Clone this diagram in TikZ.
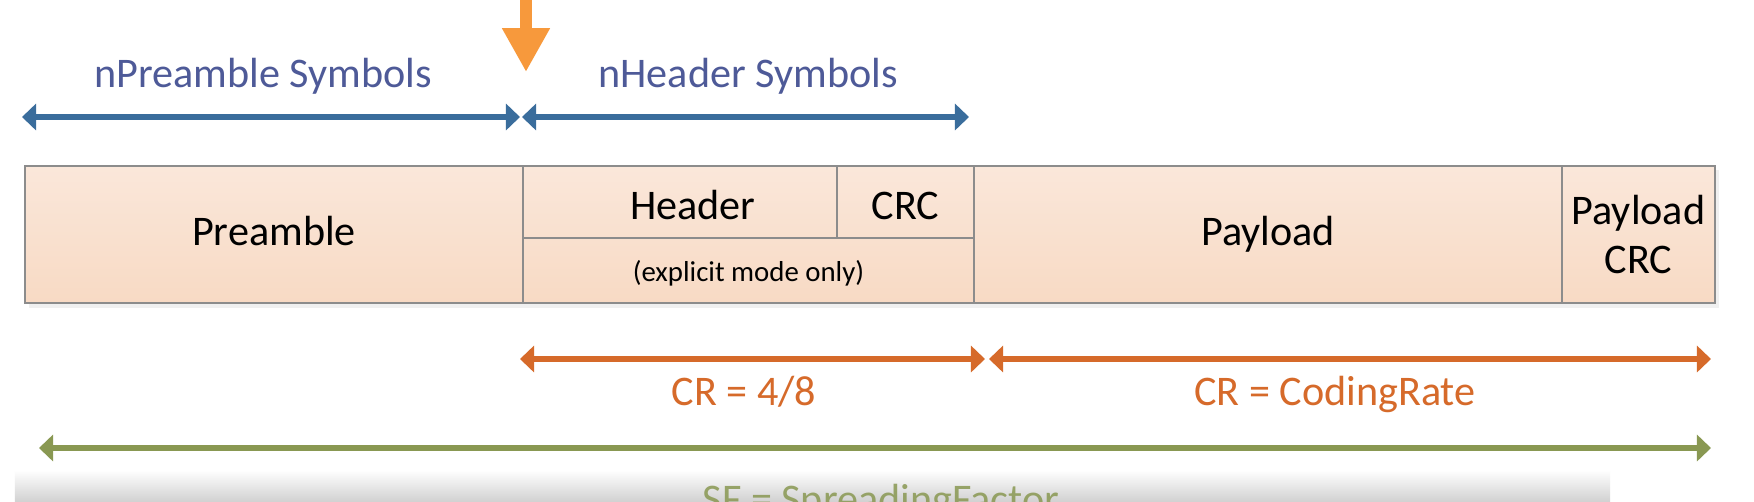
\documentclass[tikz,border=0pt]{standalone}
\usepackage{fontspec}
\setmainfont{Carlito}
\usetikzlibrary{arrows.meta,backgrounds}
\definecolor{dimBlue}{RGB}{58,109,156}
\definecolor{dimBlueText}{RGB}{78,90,152}
\definecolor{crOrange}{RGB}{214,106,42}
\definecolor{sfGreen}{RGB}{137,152,82}
\definecolor{markOrange}{RGB}{247,153,60}
\definecolor{cellTop}{RGB}{250,231,218}
\definecolor{cellBottom}{RGB}{248,218,196}
\definecolor{cellEdge}{RGB}{140,140,140}
\tikzset{
  cell/.style={draw=cellEdge,line width=0.45pt,anchor=north west,inner sep=0pt,outer sep=0pt,
    font=\fontsize{12}{14.2}\selectfont,text height=0.644em,text depth=0pt},
  dimline/.style={line width=1.7pt,{Triangle[length=4pt,width=7.4pt]}-{Triangle[length=4pt,width=7.4pt]}},
  dimtext/.style={anchor=base,font=\fontsize{12}{14}\selectfont}
}

\begin{document}
\begin{tikzpicture}
\clip (0,0) rectangle (17.54,-5.01);

\node[cell,minimum width=4.98cm,minimum height=1.37cm] (pre) at (0.25,-1.66) {Preamble};
\node[cell,minimum width=3.14cm,minimum height=0.72cm,text height=1em] (hdr) at (pre.north east) {\hspace*{0.26cm}Header};
\node[cell,minimum width=1.37cm,minimum height=0.72cm,text height=1em] (hcrc) at (hdr.north east) {CRC};
\node[cell,minimum width=4.51cm,minimum height=0.65cm,font=\fontsize{8.2}{10}\selectfont] (expl) at (hdr.south west) {(explicit mode only)};
\node[cell,minimum width=5.88cm,minimum height=1.37cm] (pay) at (hcrc.north east) {Payload};
\node[cell,minimum width=1.53cm,minimum height=1.37cm,align=center,text height=,text depth=] (pcrc) at (pay.north east) {Payload\\[0pt]CRC};
\begin{scope}[on background layer]
\fill[white] (0,0) rectangle (17.54,-5.01);
\fill[black!6] ([shift={(0.04,-0.04)}]pre.north west) rectangle ([shift={(0.04,-0.05)}]pcrc.south east);
\fill[top color=cellTop,bottom color=cellBottom] (pre.north west) rectangle (pcrc.south east);
\end{scope}

\coordinate (pL) at (0.22,-1.17);
\coordinate (pR) at (5.20,-1.17);
\coordinate (hL) at (5.22,-1.17);
\coordinate (hR) at (9.69,-1.17);
\draw[dimline,dimBlue] (pL) -- (pR);
\draw[dimline,dimBlue] (hL) -- (hR);
\node[dimtext,dimBlueText] (preSym) at (2.63,-0.87) {nPreamble Symbols};
\node[dimtext,dimBlueText] (hdrSym) at (7.48,-0.87) {nHeader Symbols};

\coordinate (mkTop) at (5.26,0.2);
\coordinate (mkTip) at (5.26,-0.72);
\draw[markOrange,line width=3.4pt,-{Triangle[length=12.5pt,width=12.8pt]}] (mkTop) -- (mkTip);

\coordinate (cL) at (5.20,-3.59);
\coordinate (cM) at (9.85,-3.59);
\coordinate (rM) at (9.89,-3.59);
\coordinate (rR) at (17.11,-3.59);
\draw[dimline,crOrange] (cL) -- (cM);
\draw[dimline,crOrange] (rM) -- (rR);
\node[dimtext,crOrange] (crHdr) at (7.44,-4.05) {CR = 4/8};
\node[dimtext,crOrange] (crPay) at (13.35,-4.05) {CR = CodingRate};

\coordinate (sL) at (0.39,-4.48);
\coordinate (sR) at (17.11,-4.48);
\draw[dimline,sfGreen] (sL) -- (sR);

\shade[top color=white,bottom color=black!20] (0.15,-4.70) rectangle (16.1,-5.05);
\node[dimtext,sfGreen,opacity=0.85] (sfLbl) at (8.81,-5.13) {SF = SpreadingFactor};
\end{tikzpicture}
\end{document}
